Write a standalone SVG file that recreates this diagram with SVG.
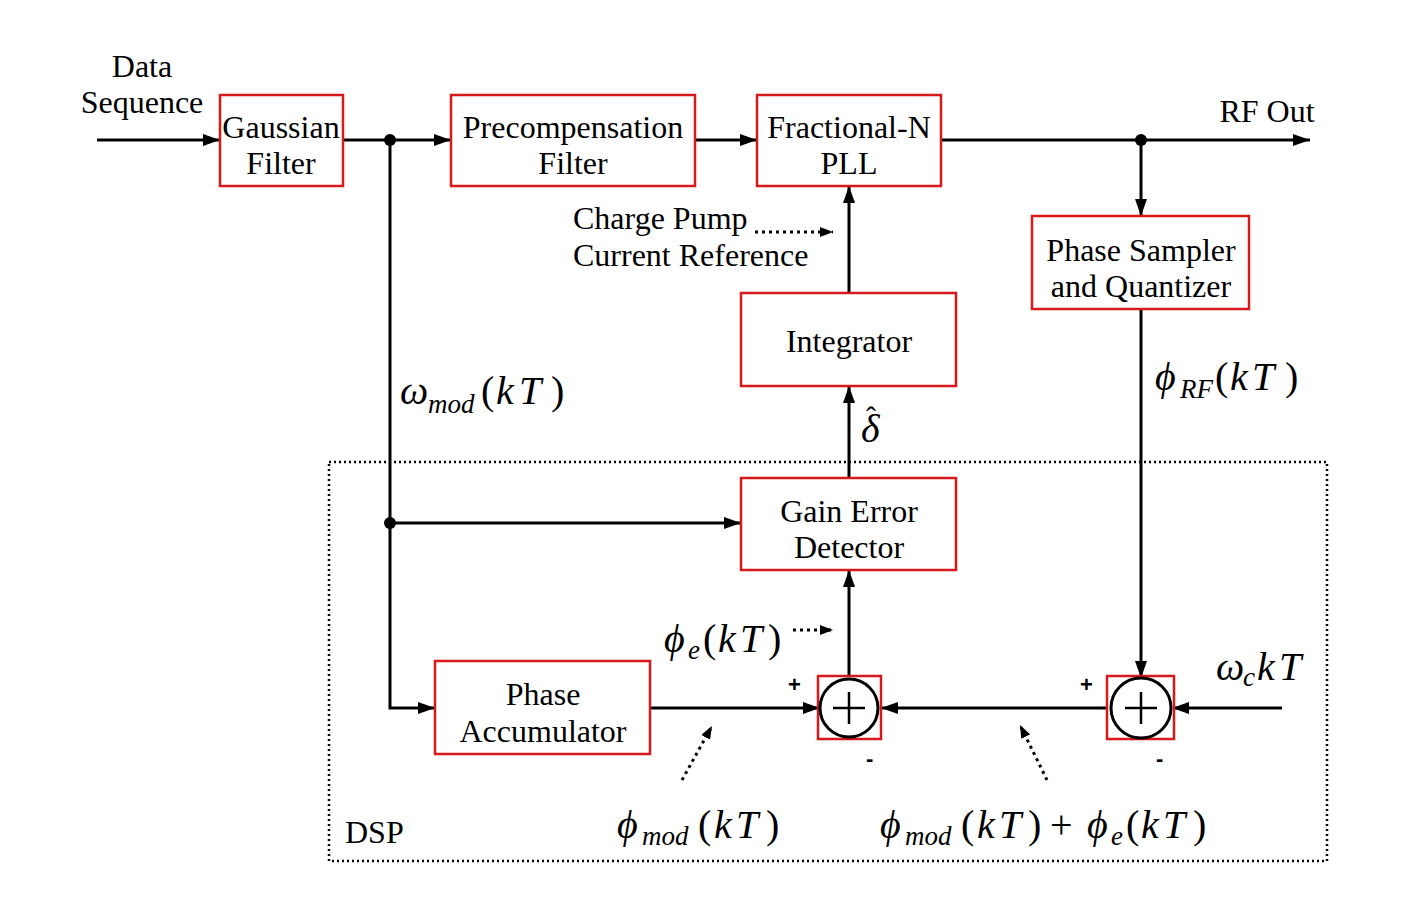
<svg xmlns="http://www.w3.org/2000/svg" width="1403" height="910" viewBox="0 0 1403 910">
<style>
.bx{fill:#fff;stroke:#d8191c;stroke-width:2.5}
.ln{fill:none;stroke:#000;stroke-width:3}
.dt{fill:none;stroke:#000;stroke-width:3;stroke-dasharray:3 4}
.t{font-family:"Liberation Serif","Times New Roman",serif;font-size:32px;fill:#000}
.c{text-anchor:middle}
.m{font-family:"Liberation Serif","DejaVu Serif",serif;font-style:italic;font-size:40px;fill:#000}
.s{font-size:27px}
.u{font-style:normal}
.pm{font-family:"Liberation Sans",Arial,sans-serif;font-size:22px;font-weight:bold;fill:#000}
</style>
<defs>
<marker id="ah" markerWidth="17" markerHeight="12" refX="17" refY="6" orient="auto" markerUnits="userSpaceOnUse"><path d="M0,0 L17,6 L0,12 z" fill="#000"/></marker>
<marker id="as" markerWidth="13" markerHeight="10" refX="13" refY="5" orient="auto" markerUnits="userSpaceOnUse"><path d="M0,0 L13,5 L0,10 z" fill="#000"/></marker>
</defs>
<rect width="1403" height="910" fill="#fff"/>
<g id="dsp-boundary">
<rect x="329" y="462" width="998" height="399" fill="none" stroke="#000" stroke-width="2.5" stroke-dasharray="2 3"/>
<text class="t" x="345" y="843">DSP</text>
</g>
<g id="connectors">
<path class="ln" d="M97,140 H220" marker-end="url(#ah)"/>
<path class="ln" d="M343,140 H451" marker-end="url(#ah)"/>
<path class="ln" d="M695,140 H757" marker-end="url(#ah)"/>
<path class="ln" d="M941,140 H1310" marker-end="url(#ah)"/>
<path class="ln" d="M1141,140 V216" marker-end="url(#ah)"/>
<path class="ln" d="M390,140 V708 H435" marker-end="url(#ah)"/>
<path class="ln" d="M390,523 H741" marker-end="url(#ah)"/>
<path class="ln" d="M650,708 H820" marker-end="url(#ah)"/>
<path class="ln" d="M1110,708 H881" marker-end="url(#ah)"/>
<path class="ln" d="M1282,708 H1172" marker-end="url(#ah)"/>
<path class="ln" d="M1141,309 V678" marker-end="url(#ah)"/>
<path class="ln" d="M849,678 V570" marker-end="url(#ah)"/>
<path class="ln" d="M849,478 V386" marker-end="url(#ah)"/>
<path class="ln" d="M849,293 V186" marker-end="url(#ah)"/>
<circle cx="390" cy="140" r="6"/>
<circle cx="1141" cy="140" r="6"/>
<circle cx="390" cy="523" r="6"/>
<path class="dt" d="M755,232 H833" marker-end="url(#as)"/>
<path class="dt" d="M793,630 H833" marker-end="url(#as)"/>
<path class="dt" d="M682,780 L712,726" marker-end="url(#as)"/>
<path class="dt" d="M1047,780 L1020,725" marker-end="url(#as)"/>
</g>
<g id="data-sequence">
<text class="t c" x="142" y="77">Data</text>
<text class="t c" x="142" y="113">Sequence</text>
</g>
<g id="gaussian-filter">
<rect class="bx" x="220" y="95" width="123" height="91"/>
<text class="t c" x="281" y="138">Gaussian</text>
<text class="t c" x="281" y="174">Filter</text>
</g>
<g id="precompensation-filter">
<rect class="bx" x="451" y="95" width="244" height="91"/>
<text class="t c" x="573" y="138">Precompensation</text>
<text class="t c" x="573" y="174">Filter</text>
</g>
<g id="fractional-n-pll">
<rect class="bx" x="757" y="95" width="184" height="91"/>
<text class="t c" x="849" y="138">Fractional-N</text>
<text class="t c" x="849" y="174">PLL</text>
</g>
<g id="rf-out">
<text class="t c" x="1267" y="122">RF Out</text>
</g>
<g id="charge-pump">
<text class="t" x="573" y="229">Charge Pump</text>
<text class="t" x="573" y="266">Current Reference</text>
</g>
<g id="phase-sampler">
<rect class="bx" x="1032" y="216" width="217" height="93"/>
<text class="t c" x="1141" y="261">Phase Sampler</text>
<text class="t c" x="1141" y="297">and Quantizer</text>
</g>
<g id="integrator">
<rect class="bx" x="741" y="293" width="215" height="93"/>
<text class="t c" x="849" y="352">Integrator</text>
</g>
<g id="gain-error-detector">
<rect class="bx" x="741" y="478" width="215" height="92"/>
<text class="t c" x="849" y="522">Gain Error</text>
<text class="t c" x="849" y="558">Detector</text>
</g>
<g id="phase-accumulator">
<rect class="bx" x="435" y="661" width="215" height="93"/>
<text class="t c" x="543" y="705">Phase</text>
<text class="t c" x="543" y="742">Accumulator</text>
</g>
<g id="sum1">
<rect class="bx" x="818" y="676" width="63" height="63" fill="none"/>
<circle cx="849" cy="708" r="29" fill="none" stroke="#000" stroke-width="3"/>
<path d="M833,708 H865 M849,692 V724" stroke="#000" stroke-width="2.5"/>
<text class="pm" x="788" y="692">+</text>
<text class="pm" x="866" y="766">-</text>
</g>
<g id="sum2">
<rect class="bx" x="1107" y="676" width="67" height="63" fill="none"/>
<circle cx="1141" cy="708" r="30" fill="none" stroke="#000" stroke-width="3"/>
<path d="M1125,708 H1157 M1141,692 V724" stroke="#000" stroke-width="2.5"/>
<text class="pm" x="1080" y="692">+</text>
<text class="pm" x="1156" y="766">-</text>
</g>
<g id="labels">
<text class="m" y="404"><tspan x="400">ω</tspan><tspan class="s" x="428" dy="9">mod</tspan><tspan class="u" x="481" dy="-9">(</tspan><tspan x="496">k</tspan><tspan x="519">T</tspan><tspan class="u" x="551">)</tspan></text>
<text class="m" y="390"><tspan x="1155">ϕ</tspan><tspan class="s" x="1180" dy="8">RF</tspan><tspan class="u" x="1215" dy="-8">(</tspan><tspan x="1230">k</tspan><tspan x="1252">T</tspan><tspan class="u" x="1285">)</tspan></text>
<text class="m" y="442"><tspan x="861">δ</tspan><tspan class="u" x="866" y="427" style="font-size:30px">ˆ</tspan></text>
<text class="m" y="652"><tspan x="664">ϕ</tspan><tspan class="s" x="688" dy="7">e</tspan><tspan class="u" x="703" dy="-7">(</tspan><tspan x="718">k</tspan><tspan x="740">T</tspan><tspan class="u" x="768">)</tspan></text>
<text class="m" y="680"><tspan x="1216">ω</tspan><tspan class="s" x="1243" dy="6">c</tspan><tspan x="1257" dy="-6">k</tspan><tspan x="1279">T</tspan></text>
<text class="m" y="838"><tspan x="617">ϕ</tspan><tspan class="s" x="642" dy="7">mod</tspan><tspan class="u" x="698" dy="-7">(</tspan><tspan x="714">k</tspan><tspan x="736">T</tspan><tspan class="u" x="766">)</tspan></text>
<text class="m" y="838"><tspan x="880">ϕ</tspan><tspan class="s" x="905" dy="7">mod</tspan><tspan class="u" x="961" dy="-7">(</tspan><tspan x="977">k</tspan><tspan x="999">T</tspan><tspan class="u" x="1028">)</tspan><tspan class="u" x="1050">+</tspan><tspan x="1087">ϕ</tspan><tspan class="s" x="1111" dy="7">e</tspan><tspan class="u" x="1126" dy="-7">(</tspan><tspan x="1141">k</tspan><tspan x="1163">T</tspan><tspan class="u" x="1193">)</tspan></text>
</g>
</svg>
